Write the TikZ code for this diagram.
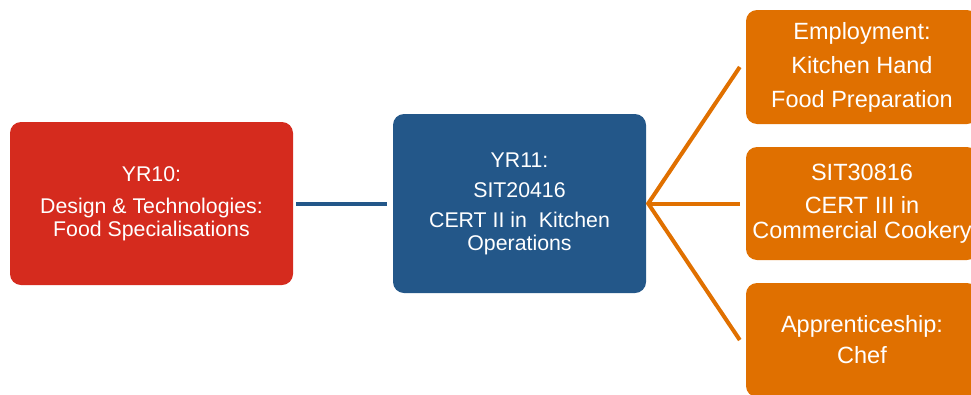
\documentclass[tikz,border=0pt]{standalone}
\usepackage{fontspec}
\setmainfont{Liberation Sans}
\definecolor{yrred}{RGB}{213,43,30}
\definecolor{yrblue}{RGB}{35,87,137}
\definecolor{pathorange}{RGB}{224,112,0}
\tikzset{
  stagebox/.style={rounded corners=11pt, inner sep=0pt, align=center, text=white},
  smalltext/.style={font=\fontsize{21.3}{23}\selectfont},
  bigtext/.style={font=\fontsize{23.5}{25}\selectfont},
  link/.style={line width=4pt}
}
\begin{document}
\begin{tikzpicture}[x=1pt, y=-1pt]
        \useasboundingbox (0,0) rectangle (971,394);
        \clip (0,0) rectangle (971,394);

        % the year 10 and year 11 boxes
        \node[stagebox, smalltext, fill=yrred, minimum width=283pt, minimum height=163pt] (yr10) at (151.5,203.5)
            {YR10:\\[9pt] Design \& Technologies:\\ Food Specialisations};
        \node[stagebox, smalltext, fill=yrblue, minimum width=253pt, minimum height=179pt] (yr11) at (519.5,203.5)
            {YR11:\\[7pt] SIT20416\\[7pt] CERT II in \ Kitchen\\ Operations};

        % the pathways after year 11 (they run off the right edge)
        \node[stagebox, bigtext, fill=pathorange, minimum width=232pt, minimum height=114pt] (job) at (862,67)
            {Employment:\\[9pt] Kitchen Hand\\[9pt] Food Preparation};
        \node[stagebox, bigtext, fill=pathorange, minimum width=232pt, minimum height=113pt] (cert3) at (862,203.5)
            {SIT30816\\[8pt] CERT III in\\ Commercial Cookery};
        \node[stagebox, bigtext, fill=pathorange, minimum width=232pt, minimum height=114pt] (chef) at (862,340)
            {Apprenticeship:\\[6pt] Chef};

        % the links, they stop short of the boxes
        \coordinate (fork) at ([xshift=2pt]yr11.east);
        \draw[link, yrblue] ([xshift=3pt]yr10.east) -- ([xshift=-6pt]yr11.west);
        \draw[link, pathorange] ([xshift=-6pt]job.west) -- (fork) -- ([xshift=-6pt]chef.west);
        \draw[link, pathorange] (fork) -- ([xshift=-6pt]cert3.west);

    \end{tikzpicture}
\end{document}
